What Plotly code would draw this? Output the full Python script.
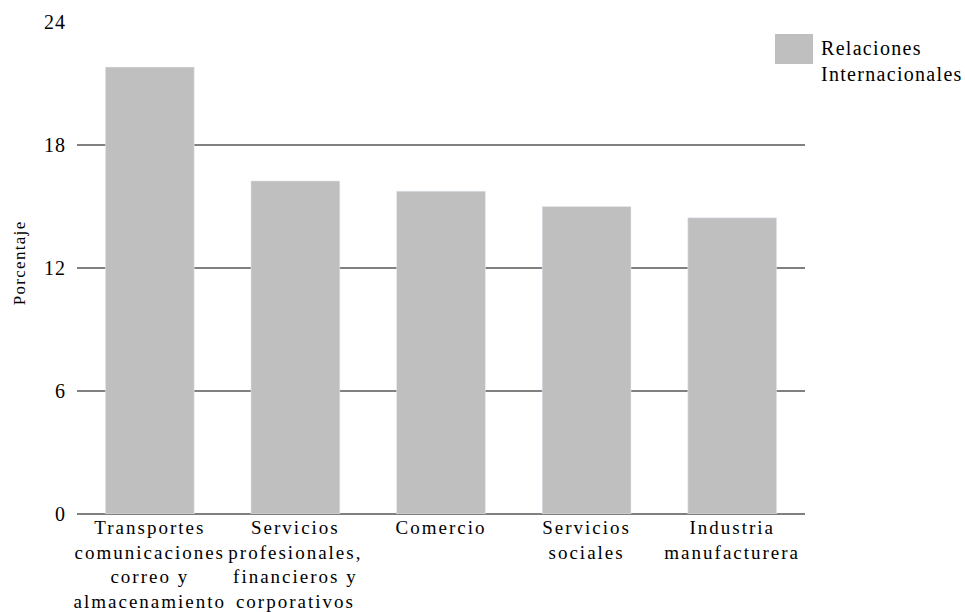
import plotly.graph_objects as go

categories = [
    "Transportes<br>comunicaciones<br>correo y<br>almacenamiento",
    "Servicios<br>profesionales,<br>financieros y<br>corporativos",
    "Comercio",
    "Servicios<br>sociales",
    "Industria<br>manufacturera",
]
values = [21.8, 16.25, 15.75, 15.0, 14.45]
series_name = "Relaciones<br>Internacionales"
y_ticks = [0, 6, 12, 18, 24]

FONT = "Liberation Serif, Times New Roman, serif"
BAR = "#bfbfbf"
GRID = "#808080"

L, R, T, B = 77, 805, 22, 514.5
W, H = R - L, B - T

fig = go.Figure()
fig.add_trace(go.Bar(x=categories, y=values, marker_color=BAR, name=series_name,
                     showlegend=False))

fig.update_layout(
    width=965, height=612,
    margin=dict(l=L, r=965 - R, t=T, b=612 - B, autoexpand=False),
    plot_bgcolor="white", paper_bgcolor="white",
    bargap=0.39,
    font=dict(family=FONT, size=19, color="black"),
    xaxis=dict(showgrid=False, showline=False, ticks="", tickangle=0, automargin=False,
               tickfont=dict(family=FONT, size=19)),
    yaxis=dict(range=[0, 24], tickvals=y_ticks, showgrid=True, gridcolor=GRID,
               gridwidth=1.7, zeroline=True, zerolinecolor=GRID, zerolinewidth=1.7,
               showline=False, ticks="outside", ticklen=6, tickcolor="white",
               automargin=False, tickfont=dict(family=FONT, size=20)),
)

# y axis title
fig.add_annotation(xref="paper", yref="paper", x=(20 - L) / W, y=(B - 263) / H,
                   xanchor="center", yanchor="middle", textangle=-90, showarrow=False,
                   text="Porcentaje", font=dict(family=FONT, size=17))

# legend drawn manually to match large swatch
fig.add_shape(type="rect", xref="paper", yref="paper",
              x0=(775 - L) / W, x1=(813 - L) / W,
              y0=(B - 64) / H, y1=(B - 34) / H,
              fillcolor=BAR, line=dict(width=0))
fig.add_annotation(xref="paper", yref="paper", x=(819 - L) / W, y=(B - 35) / H,
                   xanchor="left", yanchor="top", align="left", showarrow=False,
                   text=series_name, font=dict(family=FONT, size=20))

css = """
var s = document.createElement('style');
s.textContent = '.xtick text{letter-spacing:2px;} .ytick text{letter-spacing:1px;} .annotation-text{letter-spacing:1.3px;}';
document.head.appendChild(s);
"""
fig.write_html("out.html", post_script=css)
